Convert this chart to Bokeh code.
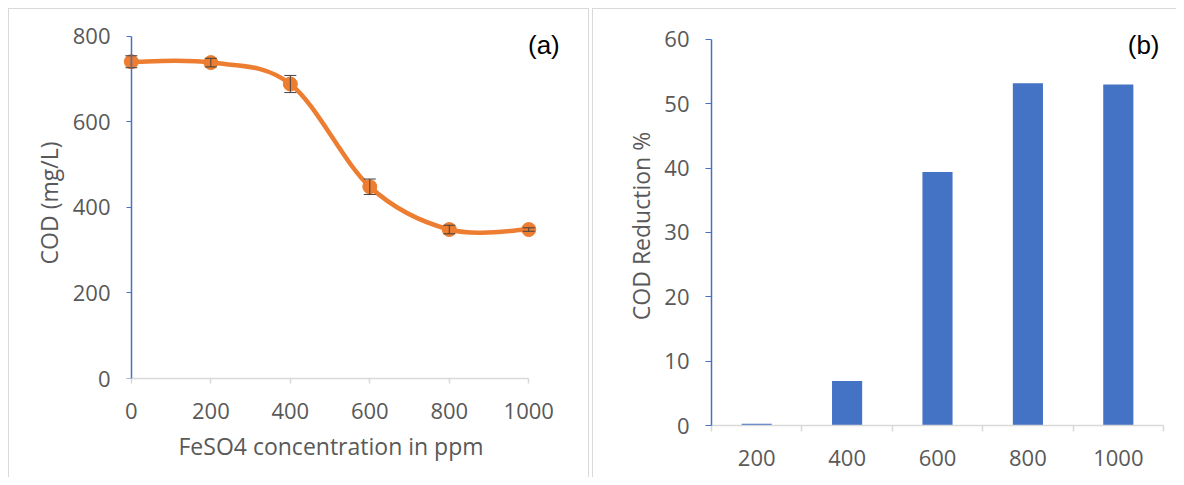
import numpy as np
from bokeh.plotting import figure
from bokeh.models import (Range1d, Label, Whisker, TeeHead, ColumnDataSource,
                          SingleIntervalTicker, FixedTicker, LinearAxis, Title)
from bokeh.layouts import row
from bokeh.embed import file_html
from bokeh.resources import INLINE

# ---------------- data ----------------
dose_a = [0, 200, 400, 600, 800, 1000]          # FeSO4 concentration (ppm)
cod = [740, 738, 688, 448, 348, 348]             # COD (mg/L)
cod_err = [14, 10, 20, 18, 10, 4]                # error bar half-height
yticks_a = [0, 200, 400, 600, 800]               # y tick values of panel (a)

dose_b = ["200", "400", "600", "800", "1000"]    # categories of panel (b)
reduction = [0.27, 6.9, 39.4, 53.2, 53.0]       # COD reduction %

ORANGE = "#ed7d31"
BLUE = "#4472c4"
GRID = "#d9d9d9"
TXT = "#595959"
FONT = "Open Sans"
TICK_FS = "22px"
TITLE_FS = "23px"

W1, W2, H = 581, 584, 469


def text_style(ax):
    ax.major_label_text_font = FONT
    ax.major_label_text_font_size = TICK_FS
    ax.major_label_text_color = TXT
    ax.axis_label_text_font = FONT
    ax.axis_label_text_font_size = TITLE_FS
    ax.axis_label_text_font_style = "normal"
    ax.axis_label_text_color = TXT
    ax.minor_tick_line_color = None
    ax.major_tick_in = 0


def frame_style(p):
    p.xgrid.visible = False
    p.ygrid.visible = False
    p.outline_line_color = None
    p.border_fill_color = None
    p.background_fill_color = None


# ---------------- panel (a) ----------------
p1 = figure(width=W1, height=H, output_backend="svg", toolbar_location=None,
            x_range=Range1d(-50, 1100), y_range=Range1d(0, 820),
            y_axis_location=None,
            min_border_left=103, min_border_right=21,
            min_border_top=19, min_border_bottom=99,
            styles={"background": "white",
                    "box-shadow": f"inset 1px 1px 0 {GRID}, inset -1px 0 0 {GRID}"})
frame_style(p1)

xa = p1.xaxis[0]
text_style(xa)
xa.bounds = (0, 1000)
xa.ticker = SingleIntervalTicker(interval=200)
xa.axis_line_color = GRID
xa.axis_line_width = 1.5
xa.major_tick_line_color = GRID
xa.major_tick_line_width = 1.5
xa.major_tick_out = 5
xa.major_label_standoff = 19

# x-axis title, centred under the 0..1000 axis line
p1.add_layout(Title(text="FeSO4 concentration in ppm", align="left", offset=67,
                    vertical_align="top", standoff=16,
                    text_font=FONT, text_font_size=TITLE_FS,
                    text_font_style="normal", text_color=TXT), "below")

# labels + title of the y axis (at the frame edge)
ya_lab = LinearAxis(ticker=FixedTicker(ticks=yticks_a),
                    axis_line_color=None, major_tick_line_color=None,
                    major_tick_out=0, major_label_standoff=1,
                    axis_label="COD (mg/L)", axis_label_standoff=5)
text_style(ya_lab)
p1.add_layout(ya_lab, "left")
# blue axis line + tick marks at x = 0 (no labels)
ya_line = LinearAxis(ticker=FixedTicker(ticks=[], minor_ticks=yticks_a),
                     fixed_location=0, bounds=(0, 800),
                     axis_line_color=BLUE, axis_line_width=1.5,
                     major_tick_line_color=None,
                     minor_tick_line_color=BLUE, minor_tick_line_width=1,
                     minor_tick_in=0, minor_tick_out=5)
p1.add_layout(ya_line, "left")

# smoothed line (Excel-style cardinal spline through the data points)
x = np.array(dose_a, float)
y = np.array(cod, float)
xp = np.concatenate([[x[0]], x, [x[-1]]])
yp = np.concatenate([[y[0]], y, [y[-1]]])
n = len(x)
cx0 = x[:-1] + (xp[2:n + 1] - xp[0:n - 1]) / 6
cy0 = y[:-1] + (yp[2:n + 1] - yp[0:n - 1]) / 6
cx1 = x[1:] - (xp[3:n + 2] - xp[1:n]) / 6
cy1 = y[1:] - (yp[3:n + 2] - yp[1:n]) / 6
p1.bezier(x0=x[:-1], y0=y[:-1], x1=x[1:], y1=y[1:],
          cx0=cx0, cy0=cy0, cx1=cx1, cy1=cy1,
          line_color=ORANGE, line_width=4.5)

src = ColumnDataSource(dict(x=dose_a, y=cod,
                            upper=[c + e for c, e in zip(cod, cod_err)],
                            lower=[c - e for c, e in zip(cod, cod_err)]))
wh = Whisker(source=src, base="x", upper="upper", lower="lower",
             line_color="#404040", line_width=1,
             upper_head=TeeHead(size=12, line_color="#404040", line_width=1),
             lower_head=TeeHead(size=12, line_color="#404040", line_width=1),
             level="glyph")
p1.add_layout(wh)
p1.scatter("x", "y", source=src, size=14, color=ORANGE)

p1.add_layout(Label(x=1038, y=780, text="(a)", text_align="center",
                    text_baseline="middle", text_font="Liberation Sans",
                    text_font_size="26px", text_color="#000000"))

# ---------------- panel (b) ----------------
ncat = len(dose_b)
centers = [i + 0.5 for i in range(ncat)]
bounds = [float(i) for i in range(ncat + 1)]

p2 = figure(width=W2, height=H, output_backend="svg", toolbar_location=None,
            x_range=Range1d(0, ncat), y_range=Range1d(0, 62),
            min_border_left=119, min_border_right=13,
            min_border_top=18, min_border_bottom=52,
            styles={"background": "white",
                    "box-shadow": f"inset 1px 1px 0 {GRID}"})
frame_style(p2)
xb = p2.xaxis[0]
yb = p2.yaxis[0]
text_style(xb)
text_style(yb)
xb.ticker = FixedTicker(ticks=centers, minor_ticks=bounds)
xb.major_label_overrides = {c: lab for c, lab in zip(centers, dose_b)}
xb.axis_line_color = GRID
xb.axis_line_width = 1.5
xb.major_tick_line_color = None
xb.major_tick_out = 6
xb.minor_tick_line_color = GRID
xb.minor_tick_line_width = 1.5
xb.minor_tick_in = 0
xb.minor_tick_out = 6
xb.major_label_standoff = 18
yb.ticker = SingleIntervalTicker(interval=10)
yb.bounds = (0, 60)
yb.axis_line_color = BLUE
yb.axis_line_width = 1.5
yb.major_tick_line_color = BLUE
yb.major_tick_out = 6
yb.major_label_standoff = 16
yb.axis_label = "COD Reduction %"
yb.axis_label_standoff = 4

p2.vbar(x=centers, top=reduction, width=1 / 3, fill_color=BLUE,
        line_color=None)

p2.add_layout(Label(x=4.78, y=59.1, text="(b)", text_align="center",
                    text_baseline="middle", text_font="Liberation Sans",
                    text_font_size="26px", text_color="#000000"))

# ---------------- page ----------------
html = None
try:
    from bokeh.core.templates import FILE
    tmpl = FILE.environment.from_string(
        '{% extends "file.html" %}'
        '{% block postamble %}<style>'
        'html, body { height: auto; }'
        'body { display: flex; flex-direction: row; align-items: flex-start;'
        ' gap: 3px; padding: 8px 0 0 8px; margin: 0; box-sizing: border-box; }'
        '</style>{% endblock %}')
    html = file_html([p1, p2], INLINE, template=tmpl)
except Exception:
    html = None
if html is None:
    html = file_html(row(p1, p2, spacing=3), INLINE)
open("out.html", "w").write(html)
